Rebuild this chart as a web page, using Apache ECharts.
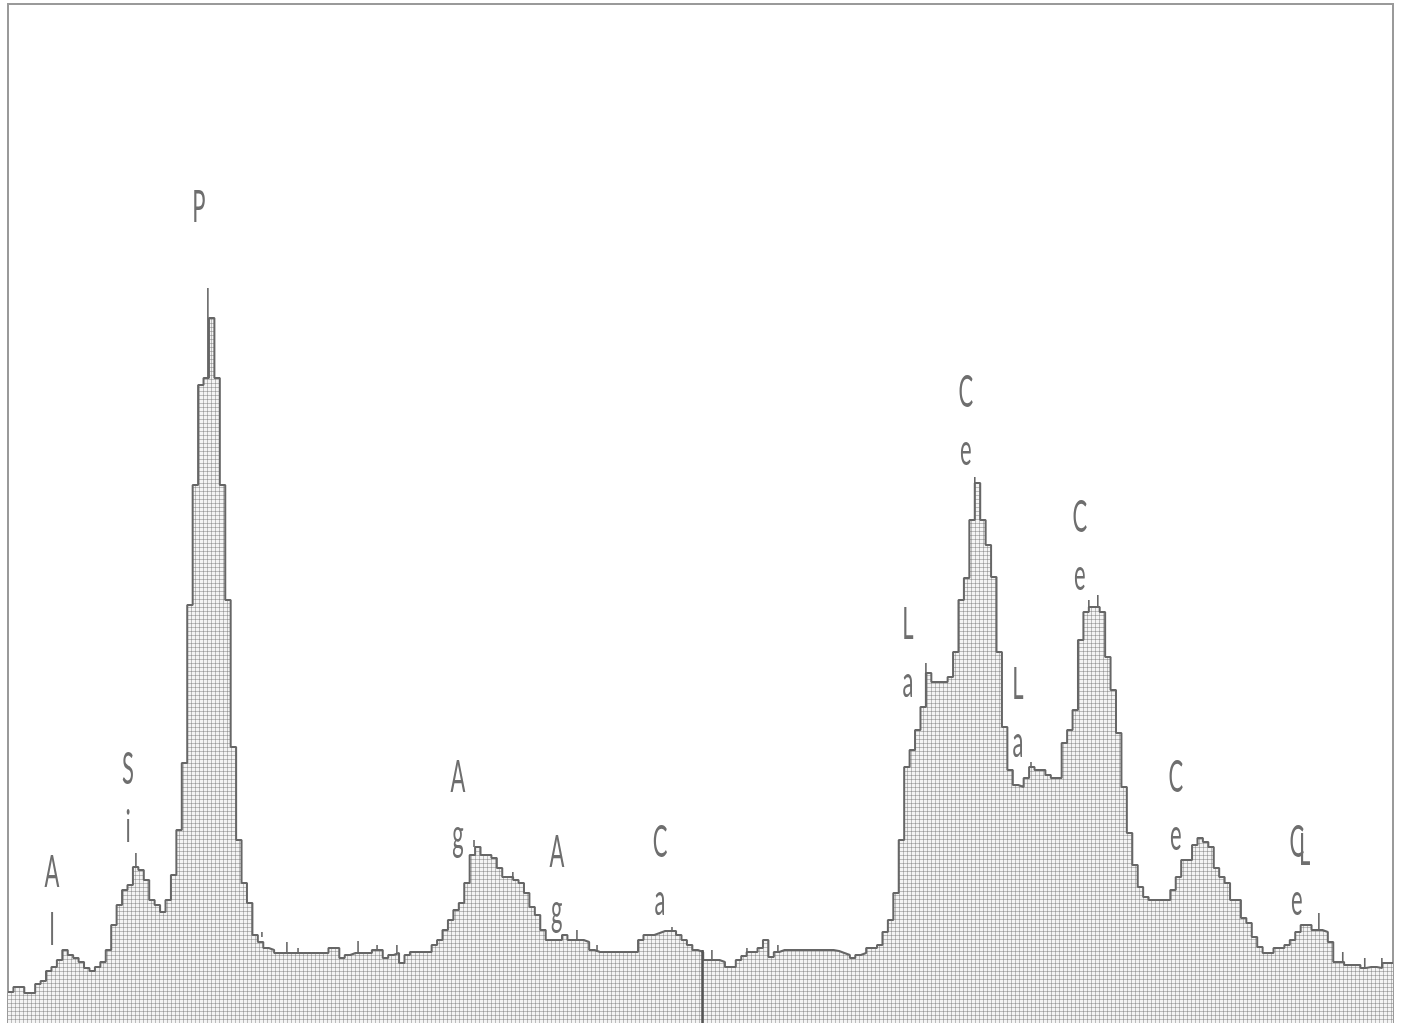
<!DOCTYPE html>
<html>
<head>
<meta charset="utf-8">
<title>EDS spectrum</title>
<script src="https://cdn.jsdelivr.net/npm/echarts@6/dist/echarts.min.js"></script>
<style>
  html, body { margin: 0; padding: 0; background: #ffffff; }
  #chart { width: 1401px; height: 1023px; }
</style>
</head>
<body>
<div id="chart"></div>
<script>
// Energy window (keV) and channel width (keV)
const energyStart = 1.29;
const energyEnd = 6.39;
const channelWidth = 0.02;

// Counts per 20 eV channel, starting at energyStart
const counts = [
  31, 36, 36, 30, 30, 39, 42, 52, 56, 63,
  73, 68, 65, 61, 55, 52, 56, 61, 73, 98,
  118, 133, 138, 156, 153, 143, 123, 118, 111, 123,
  148, 193, 260, 418, 538, 638, 645, 705, 645, 538,
  423, 276, 183, 140, 120, 88, 81, 75, 73, 70,
  70, 70, 70, 70, 70, 70, 70, 70, 70, 75,
  75, 65, 68, 70, 70, 70, 70, 73, 73, 65,
  68, 70, 60, 68, 71, 71, 71, 71, 78, 83,
  93, 103, 113, 120, 140, 168, 176, 168, 168, 165,
  155, 146, 146, 143, 140, 130, 116, 108, 93, 83,
  83, 83, 88, 83, 83, 83, 81, 73, 71, 71,
  71, 71, 71, 71, 71, 71, 83, 88, 88, 90,
  92, 92, 92, 88, 83, 78, 73, 71, 63, 63,
  63, 61, 56, 56, 63, 67, 71, 71, 75, 83,
  66, 71, 73, 73, 73, 73, 73, 73, 73, 73,
  73, 73, 72, 70, 68, 65, 68, 70, 75, 75,
  78, 91, 103, 130, 183, 256, 273, 293, 316, 350,
  341, 341, 341, 346, 371, 423, 445, 503, 540, 503,
  478, 446, 371, 296, 253, 238, 236, 245, 256, 253,
  253, 248, 245, 245, 280, 293, 313, 383, 411, 416,
  416, 411, 366, 333, 290, 236, 190, 158, 136, 126,
  123, 123, 123, 123, 133, 146, 163, 163, 178, 185,
  181, 176, 155, 146, 140, 123, 123, 105, 100, 86,
  76, 70, 70, 75, 75, 78, 83, 91, 98, 98,
  93, 93, 91, 81, 61, 61, 58, 58, 58, 55,
  56, 56, 55, 60, 60
];

// Narrow marker ticks: [energy keV, from count, to count]
const markerTicks = [
  [1.761, 156, 170], [2.026, 645, 735], [2.225, 86, 91], [2.317, 70, 81],
  [2.358, 70, 75], [2.579, 70, 82], [2.649, 73, 78], [2.722, 70, 78],
  [3.006, 176, 183], [3.149, 146, 151], [3.385, 83, 93], [3.459, 71, 78],
  [3.735, 92, 96], [3.882, 63, 73], [4.011, 71, 75], [4.125, 71, 78],
  [4.670, 316, 360], [4.850, 540, 546], [5.057, 256, 261], [5.270, 416, 423],
  [5.303, 416, 428], [6.117, 93, 110], [6.205, 61, 71], [6.286, 55, 65],
  [6.349, 55, 65]
];

// Cursor position (keV) and its height in counts
const cursorEnergy = 3.845;
const cursorTop = 73;

// Element line labels: anchor [energy keV, count at top of text] and text
const labelAnchors = [
  [1.452, 163], [1.732, 266], [1.993, 828], [2.947, 258], [3.311, 183],
  [3.691, 193], [4.604, 411], [4.817, 643], [5.009, 351], [5.237, 518],
  [5.590, 258], [6.036, 193], [6.065, 185]
];
const labelTexts = [
  'A\nl', 'S\ni', 'P', 'A\ng', 'A\ng',
  'C\na', 'L\na', 'C\ne', 'L\na', 'C\ne',
  'C\ne', 'C\ne', 'L'
];

const yMax = 1019;

// Step histogram points: each channel starts at its energy, last point closes the window
const stepData = counts.map((c, i) => [+(energyStart + i * channelWidth).toFixed(3), c]);
stepData.push([energyEnd, counts[counts.length - 1]]);

// Dotted mesh fill pattern
function meshPattern() {
  const cv = document.createElement('canvas');
  cv.width = 4; cv.height = 4;
  const ctx = cv.getContext('2d');
  ctx.fillStyle = '#f4f4f4';
  ctx.fillRect(0, 0, 4, 4);
  ctx.fillStyle = '#bcbcbc';
  ctx.fillRect(0, 3, 4, 1);
  ctx.fillRect(3, 0, 1, 4);
  ctx.fillStyle = '#9a9a9a';
  ctx.fillRect(3, 3, 1, 1);
  return cv;
}

const chart = echarts.init(document.getElementById('chart'), null, { renderer: 'canvas' });

const labelColor = '#6e6e6e';
const labelFont = 'normal 44px Lato, "DejaVu Sans", sans-serif';

chart.setOption({
  animation: false,
  backgroundColor: '#ffffff',
  grid: {
    left: 8, right: 8, top: 4, bottom: -2,
    show: true, borderColor: '#9a9a9a', borderWidth: 2, backgroundColor: 'transparent'
  },
  xAxis: {
    type: 'value', min: energyStart, max: energyEnd,
    axisLine: { show: false }, axisTick: { show: false },
    axisLabel: { show: false }, splitLine: { show: false }
  },
  yAxis: {
    type: 'value', min: 0, max: yMax,
    axisLine: { show: false }, axisTick: { show: false },
    axisLabel: { show: false }, splitLine: { show: false }
  },
  series: [
    {
      type: 'line',
      step: 'end',
      data: stepData,
      symbol: 'none',
      lineStyle: { color: '#666666', width: 2 },
      areaStyle: { color: { image: meshPattern(), repeat: 'repeat' }, opacity: 1 },
      markLine: {
        silent: true,
        symbol: 'none',
        label: { show: false },
        lineStyle: { color: '#555555', width: 2.5, type: 'solid' },
        data: [[{ coord: [cursorEnergy, 0] }, { coord: [cursorEnergy, cursorTop] }]]
      },
      z: 2
    },
    {
      type: 'custom',
      data: markerTicks,
      encode: { x: 0, y: [1, 2] },
      renderItem: function (params, api) {
        const a = api.coord([api.value(0), api.value(1)]);
        const b = api.coord([api.value(0), api.value(2)]);
        return {
          type: 'line',
          shape: { x1: a[0], y1: a[1], x2: b[0], y2: b[1] },
          style: { stroke: '#666666', lineWidth: 1.6 }
        };
      },
      z: 3
    },
    {
      type: 'custom',
      data: labelAnchors,
      encode: { x: 0, y: 1 },
      renderItem: function (params, api) {
        const p = api.coord([api.value(0), api.value(1)]);
        const lines = labelTexts[params.dataIndex].split('\n');
        return {
          type: 'group',
          children: lines.map((t, j) => ({
            type: 'text',
            x: p[0],
            y: p[1] - 9 + j * 58,
            scaleX: 0.5,
            style: {
              text: t,
              fill: labelColor,
              font: labelFont,
              align: 'center',
              verticalAlign: 'top'
            }
          }))
        };
      },
      z: 4
    }
  ]
});
</script>
</body>
</html>
